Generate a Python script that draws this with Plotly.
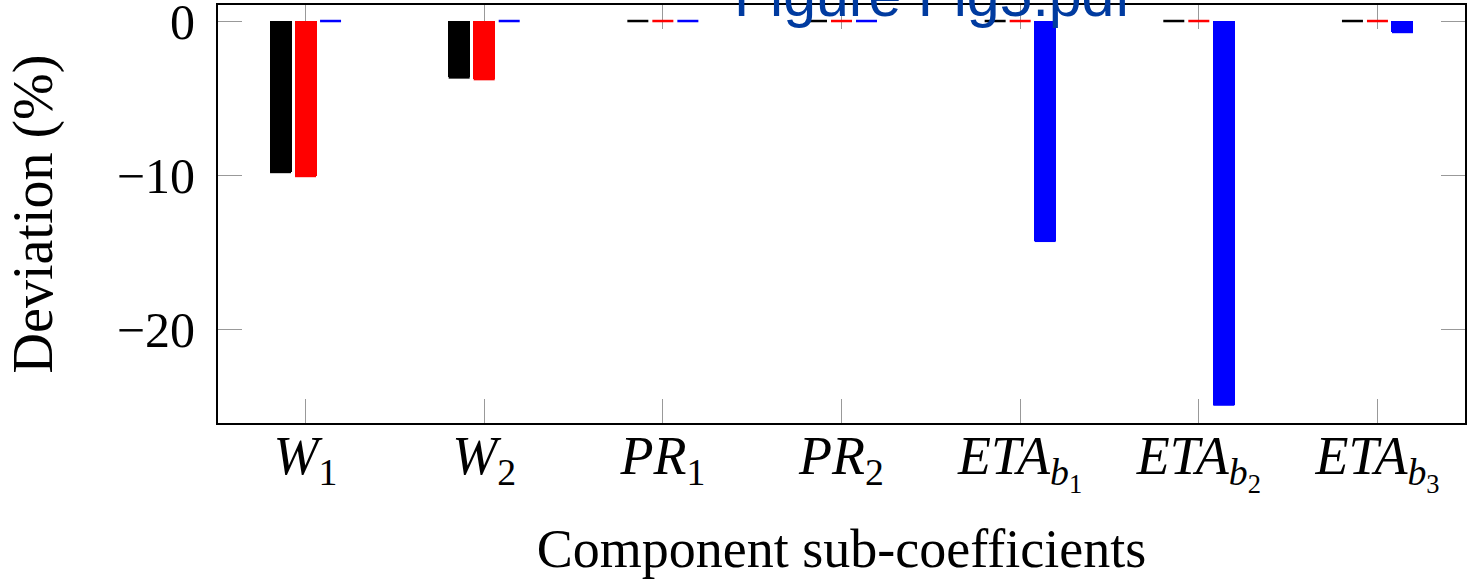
import plotly.graph_objects as go

# ---- data ----
categories = ["W1", "W2", "PR1", "PR2", "ETAb1", "ETAb2", "ETAb3"]
tick_labels = [
    "<i>W</i><sub>1</sub>",
    "<i>W</i><sub>2</sub>",
    "<i>PR</i><sub>1</sub>",
    "<i>PR</i><sub>2</sub>",
    "<i>ETA</i><sub><i>b</i><sub>1</sub></sub>",
    "<i>ETA</i><sub><i>b</i><sub>2</sub></sub>",
    "<i>ETA</i><sub><i>b</i><sub>3</sub></sub>",
]
series_black = [-9.8, -3.66, 0, 0, 0, 0, 0]
series_red = [-10.06, -3.77, 0, 0, 0, 0, 0]
series_blue = [0, 0, 0, 0, -14.27, -24.9, -0.71]
y_ticks = [-20, -10, 0]

series = [
    ("Series 1", series_black, "#000000", -0.14),
    ("Series 2", series_red, "#ff0000", 0.0),
    ("Series 3", series_blue, "#0000ff", 0.14),
]
BAR_W = 0.123

fig = go.Figure()
idx = list(range(len(categories)))
for name, vals, color, off in series:
    xs = [i + off for i in idx]
    fig.add_trace(go.Bar(
        x=xs, y=vals, width=BAR_W, name=name,
        marker=dict(color=color, line=dict(width=0)),
        showlegend=False, hoverinfo="skip",
    ))
    # bar outline at the value end (makes zero-height bars visible, like pgfplots)
    fig.add_trace(go.Scatter(
        x=xs, y=vals, mode="markers", name=name,
        marker=dict(symbol="line-ew", size=15,
                    line=dict(color=color, width=2.5)),
        showlegend=False, hoverinfo="skip",
    ))

serif = "Liberation Serif, Times New Roman, serif"

fig.update_layout(
    width=1477, height=582,
    margin=dict(l=218, r=12, t=5, b=159, autoexpand=False),
    paper_bgcolor="white", plot_bgcolor="white",
    font=dict(family=serif, size=50, color="black"),
    bargap=0,
)
fig.update_xaxes(
    range=[-0.49, 6.49], automargin=False,
    tickmode="array", tickvals=idx, ticktext=tick_labels,
    ticks="inside", ticklen=24, tickwidth=1.2, tickcolor="#999999",
    showline=True, linecolor="black", linewidth=2, mirror="ticks",
    showgrid=False, zeroline=False, layer="below traces",
    tickfont=dict(family=serif, size=54),
    ticklabelstandoff=-16, ticklabeloverflow="allow",
    title=dict(text="Component sub-coefficients",
               font=dict(family=serif, size=54), standoff=31),
)
fig.update_yaxes(
    range=[-26.1, 1.04], automargin=False,
    tickmode="array", tickvals=y_ticks,
    ticks="inside", ticklen=24, tickwidth=1.2, tickcolor="#999999",
    showline=True, linecolor="black", linewidth=2, mirror="ticks",
    showgrid=False, zeroline=False, layer="below traces",
    tickfont=dict(family=serif, size=50),
    ticklabelstandoff=11, ticklabeloverflow="allow",
    title=dict(text="Deviation (%)",
               font=dict(family=serif, size=56), standoff=46),
)

fig.add_annotation(
    text="Figure Fig5.pdf", xref="paper", yref="paper",
    x=0.5726, y=1, xanchor="center", yanchor="bottom", yshift=-26,
    showarrow=False,
    font=dict(family="Liberation Sans, Arial, sans-serif", size=59, color="#003ba0"),
)

fig.write_html("out.html", config={"displayModeBar": False},
               post_script="document.body.style.margin='0';")
